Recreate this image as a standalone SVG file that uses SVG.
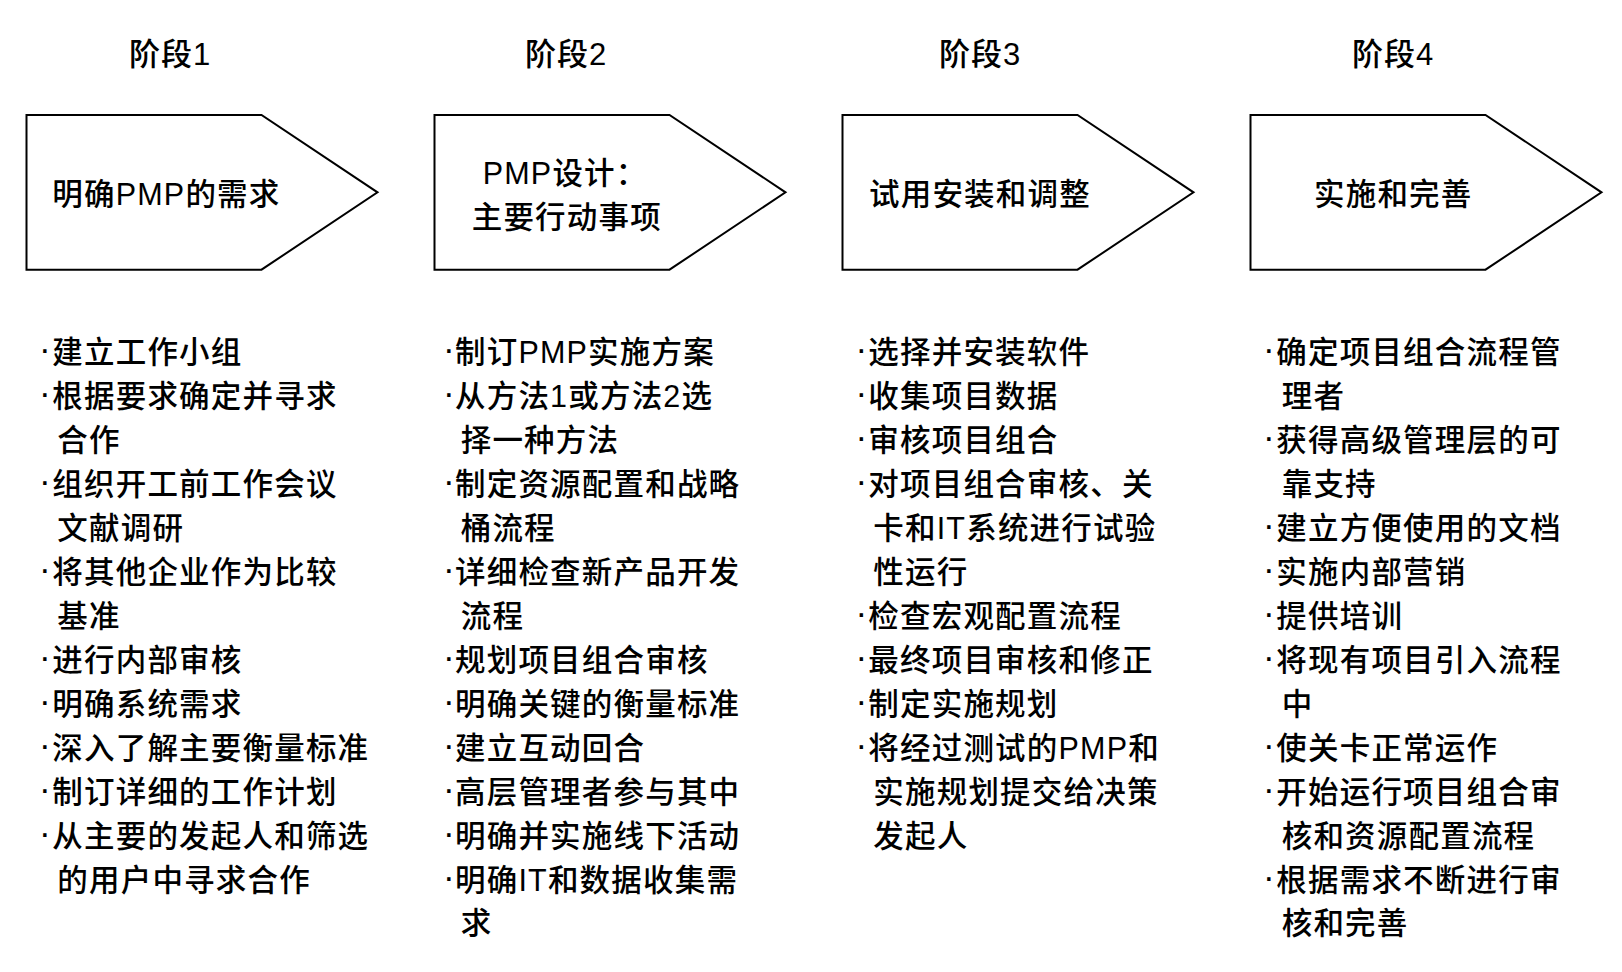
<svg xmlns="http://www.w3.org/2000/svg" width="1622" height="972" viewBox="0 0 1622 972">
<style>
text{font-family:"Liberation Sans","Noto Sans CJK SC",sans-serif;fill:#000;font-size:30.5px;letter-spacing:1.2px;font-weight:500}
.title{font-size:31px;letter-spacing:1px}
.dot{font-family:"Liberation Sans",sans-serif;font-size:35px;font-weight:400}
.shape{fill:#fff;stroke:#000;stroke-width:2}
</style>
<rect width="1622" height="972" fill="#fff"/>
<g id="connectors"/>
<g id="stage1">
<text class="title" x="129" y="64.5">阶段1</text>
<polygon class="shape" points="26.5,115 261.5,115 377.5,192.3 261.5,269.7 26.5,269.7"/>
<text x="52.3" y="205">明确PMP的需求</text>
<g id="list1">
<text class="dot" x="39" y="361">·</text><text x="52.3" y="363">建立工作小组</text>
<text class="dot" x="39" y="405">·</text><text x="52.3" y="407">根据要求确定并寻求</text>
<text x="57.3" y="451">合作</text>
<text class="dot" x="39" y="493">·</text><text x="52.3" y="495">组织开工前工作会议</text>
<text x="57.3" y="539">文献调研</text>
<text class="dot" x="39" y="581">·</text><text x="52.3" y="583">将其他企业作为比较</text>
<text x="57.3" y="627">基准</text>
<text class="dot" x="39" y="669">·</text><text x="52.3" y="671">进行内部审核</text>
<text class="dot" x="39" y="713">·</text><text x="52.3" y="715">明确系统需求</text>
<text class="dot" x="39" y="757">·</text><text x="52.3" y="759">深入了解主要衡量标准</text>
<text class="dot" x="39" y="801">·</text><text x="52.3" y="803">制订详细的工作计划</text>
<text class="dot" x="39" y="845">·</text><text x="52.3" y="847">从主要的发起人和筛选</text>
<text x="57.3" y="891">的用户中寻求合作</text>
</g>
</g>
<g id="stage2">
<text class="title" x="525" y="64.5">阶段2</text>
<polygon class="shape" points="434.5,115 669.5,115 785.5,192.3 669.5,269.7 434.5,269.7"/>
<text x="482.7" y="184">PMP设计：</text>
<text x="471.7" y="228">主要行动事项</text>
<g id="list2">
<text class="dot" x="443" y="361">·</text><text x="455" y="363">制订PMP实施方案</text>
<text class="dot" x="443" y="405">·</text><text x="455" y="407">从方法1或方法2选</text>
<text x="460.7" y="451">择一种方法</text>
<text class="dot" x="443" y="493">·</text><text x="455" y="495">制定资源配置和战略</text>
<text x="460.7" y="539">桶流程</text>
<text class="dot" x="443" y="581">·</text><text x="455" y="583">详细检查新产品开发</text>
<text x="460.7" y="627">流程</text>
<text class="dot" x="443" y="669">·</text><text x="455" y="671">规划项目组合审核</text>
<text class="dot" x="443" y="713">·</text><text x="455" y="715">明确关键的衡量标准</text>
<text class="dot" x="443" y="757">·</text><text x="455" y="759">建立互动回合</text>
<text class="dot" x="443" y="801">·</text><text x="455" y="803">高层管理者参与其中</text>
<text class="dot" x="443" y="845">·</text><text x="455" y="847">明确并实施线下活动</text>
<text class="dot" x="443" y="889">·</text><text x="455" y="891">明确IT和数据收集需</text>
<text x="460.7" y="934">求</text>
</g>
</g>
<g id="stage3">
<text class="title" x="939" y="64.5">阶段3</text>
<polygon class="shape" points="842.5,115 1077.5,115 1193.5,192.3 1077.5,269.7 842.5,269.7"/>
<text x="869" y="205">试用安装和调整</text>
<g id="list3">
<text class="dot" x="855.6" y="361">·</text><text x="868.3" y="363">选择并安装软件</text>
<text class="dot" x="855.6" y="405">·</text><text x="868.3" y="407">收集项目数据</text>
<text class="dot" x="855.6" y="449">·</text><text x="868.3" y="451">审核项目组合</text>
<text class="dot" x="855.6" y="493">·</text><text x="868.3" y="495">对项目组合审核、关</text>
<text x="873.3" y="539">卡和IT系统进行试验</text>
<text x="873.3" y="583">性运行</text>
<text class="dot" x="855.6" y="625">·</text><text x="868.3" y="627">检查宏观配置流程</text>
<text class="dot" x="855.6" y="669">·</text><text x="868.3" y="671">最终项目审核和修正</text>
<text class="dot" x="855.6" y="713">·</text><text x="868.3" y="715">制定实施规划</text>
<text class="dot" x="855.6" y="757">·</text><text x="868.3" y="759">将经过测试的PMP和</text>
<text x="873.3" y="803">实施规划提交给决策</text>
<text x="873.3" y="847">发起人</text>
</g>
</g>
<g id="stage4">
<text class="title" x="1352" y="64.5">阶段4</text>
<polygon class="shape" points="1250.5,115 1485.5,115 1601.5,192.3 1485.5,269.7 1250.5,269.7"/>
<text x="1314" y="205">实施和完善</text>
<g id="list4">
<text class="dot" x="1263" y="361">·</text><text x="1276.3" y="363">确定项目组合流程管</text>
<text x="1281.7" y="407">理者</text>
<text class="dot" x="1263" y="449">·</text><text x="1276.3" y="451">获得高级管理层的可</text>
<text x="1281.7" y="495">靠支持</text>
<text class="dot" x="1263" y="537">·</text><text x="1276.3" y="539">建立方便使用的文档</text>
<text class="dot" x="1263" y="581">·</text><text x="1276.3" y="583">实施内部营销</text>
<text class="dot" x="1263" y="625">·</text><text x="1276.3" y="627">提供培训</text>
<text class="dot" x="1263" y="669">·</text><text x="1276.3" y="671">将现有项目引入流程</text>
<text x="1281.7" y="715">中</text>
<text class="dot" x="1263" y="757">·</text><text x="1276.3" y="759">使关卡正常运作</text>
<text class="dot" x="1263" y="801">·</text><text x="1276.3" y="803">开始运行项目组合审</text>
<text x="1281.7" y="847">核和资源配置流程</text>
<text class="dot" x="1263" y="889">·</text><text x="1276.3" y="891">根据需求不断进行审</text>
<text x="1281.7" y="934">核和完善</text>
</g>
</g>
</svg>
